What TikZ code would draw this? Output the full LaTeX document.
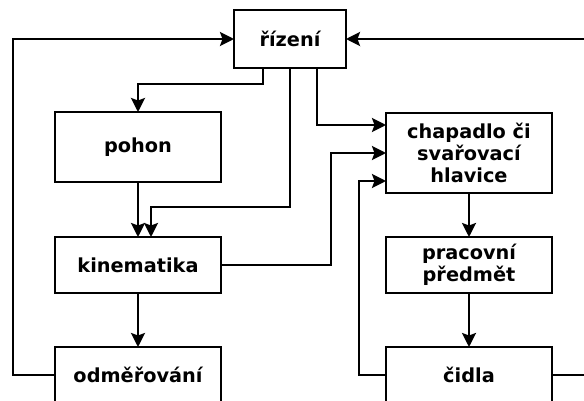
\documentclass[tikz,border=0pt]{standalone}
\usepackage{fontspec}
\setmainfont{DejaVu Sans}
\usetikzlibrary{arrows.meta}
\tikzset{>={Stealth[length=14pt,width=14pt,inset=2.5pt]}}
\tikzset{block/.style = {shape=rectangle,draw, minimum width=166pt,
inner sep=0pt, outer sep=0pt, align=center,
font=\fontsize{19.3}{21.8}\selectfont\bfseries}}

\begin{document}
\begin{tikzpicture}[x=1pt,y=-1pt,line width=2.5pt]
                \clip (0,0) rectangle (584,401);
                \node[block, minimum width=112pt, minimum height=58pt] (rizeni) at (290,39) {řízení};
                \node[block, minimum height=70pt] (pohon) at (138,147) {pohon};
                \node[block, minimum height=56pt] (kinematika) at (138,265) {kinematika};
                \node[block, minimum height=56pt] (odmer) at (138,375) {odměřování};
                \node[block, minimum height=80pt] (chapadlo) at (469,153) {chapadlo či\\svařovací\\hlavice};
                \node[block, minimum height=56pt] (predmet) at (469,265) {pracovní\\předmět};
                \node[block, minimum height=56pt] (cidla) at (469,375) {čidla};

                \draw[->] ([xshift=-27pt]rizeni.south) -- ++(0,16) -| (pohon);
                \draw[->] (rizeni) -- (290,207) -| ([xshift=13pt]kinematika.north);
                \draw[->] ([xshift=27pt]rizeni.south) |- ([yshift=28pt]chapadlo.west);

                \draw[->] (pohon) to (kinematika);
                \draw[->] (kinematika) to (odmer);
                \draw[->] (kinematika) -- (331,265) |- (chapadlo);

                \draw[->] (chapadlo) to (predmet);
                \draw[->] (predmet) to (cidla);
                \draw[->] (cidla) -- (359,375) |- ([yshift=-28pt]chapadlo.west);

                \draw[->] (odmer) -- (13,375) |- (rizeni);
                \draw[->] (cidla) -- (600,375) |- (rizeni);
            \end{tikzpicture}
\end{document}
